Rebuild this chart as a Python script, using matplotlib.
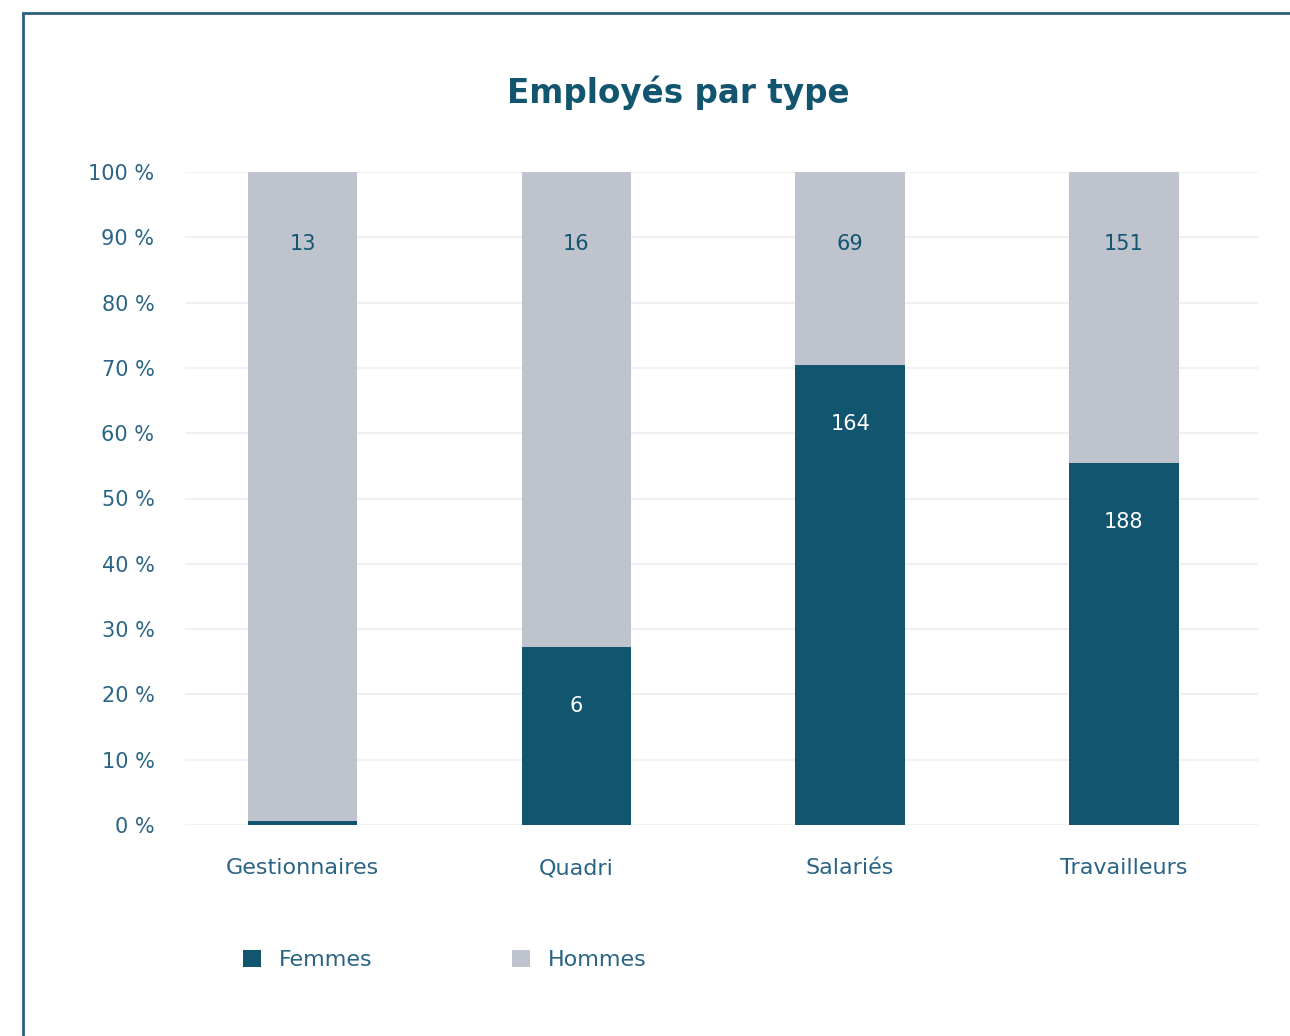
import numpy as np
import matplotlib
matplotlib.use("Agg")
import matplotlib.pyplot as plt
from matplotlib.patches import Rectangle

plt.rcParams['font.family'] = ['DejaVu Sans']

# data
categories = ['Gestionnaires', 'Quadri', 'Salariés', 'Travailleurs']
femmes = np.array([0, 6, 164, 188])
hommes = np.array([13, 16, 69, 151])
y_ticks = [0, 10, 20, 30, 40, 50, 60, 70, 80, 90, 100]
y_tick_labels = [f'{t} %' for t in y_ticks]

dark = '#12556f'
grey = '#bfc3cd'
text_col = '#2a6485'

total = femmes + hommes
pct_f = femmes / total * 100
pct_h = hommes / total * 100

fig = plt.figure(figsize=(12.9, 10.36), dpi=100)
ax = fig.add_axes([185 / 1290, 1 - 825 / 1036, (1258 - 185) / 1290, (825 - 172) / 1036])

x = np.arange(len(categories))
w = 0.40
# zero values still show as a thin sliver at the base
shown_f = np.where(pct_f == 0, 0.6, pct_f)
ax.bar(x, shown_f, w, color=dark, label='Femmes', zorder=2)
ax.bar(x, pct_h, w, bottom=pct_f, color=grey, label='Hommes', zorder=1)

for i in range(len(categories)):
    if femmes[i] > 0:
        ax.text(x[i], pct_f[i] - 9, str(femmes[i]), ha='center', va='center',
                color='white', fontsize=15, zorder=3)
    ax.text(x[i], 89, str(hommes[i]), ha='center', va='center',
            color=dark, fontsize=15, zorder=3)

ax.set_xlim(-0.43, 3.49)
ax.set_ylim(0, 100)
ax.set_yticks(y_ticks)
ax.set_yticklabels(y_tick_labels)
ax.set_xticks(x)
ax.set_xticklabels(categories)
ax.tick_params(axis='y', length=0, pad=22, labelsize=15, labelcolor=text_col)
ax.tick_params(axis='x', length=0, pad=24, labelsize=16, labelcolor=text_col)
ax.grid(axis='y', color='#f0f0f0', linewidth=1.5, zorder=0)
ax.set_axisbelow(True)
for s in ax.spines.values():
    s.set_visible(False)

fig.text(678 / 1290, 1 - 93 / 1036, 'Employés par type', ha='center', va='center',
         fontsize=23.5, fontweight='bold', color=dark)

# outer frame, cut at the right and bottom edges
fig.patches.append(Rectangle((23 / 1290, -0.2), 1.2, 1.2 - 13 / 1036,
                             transform=fig.transFigure, fill=False,
                             edgecolor='#2a5f7d', linewidth=2))

leg = fig.legend(loc='center left', bbox_to_anchor=(223 / 1290, 1 - 960 / 1036),
                 ncol=2, frameon=False, fontsize=16, handlelength=0.8,
                 handleheight=0.8, handletextpad=0.8, columnspacing=6.3)
for t in leg.get_texts():
    t.set_color(text_col)

fig.savefig('out.png', dpi=100)
